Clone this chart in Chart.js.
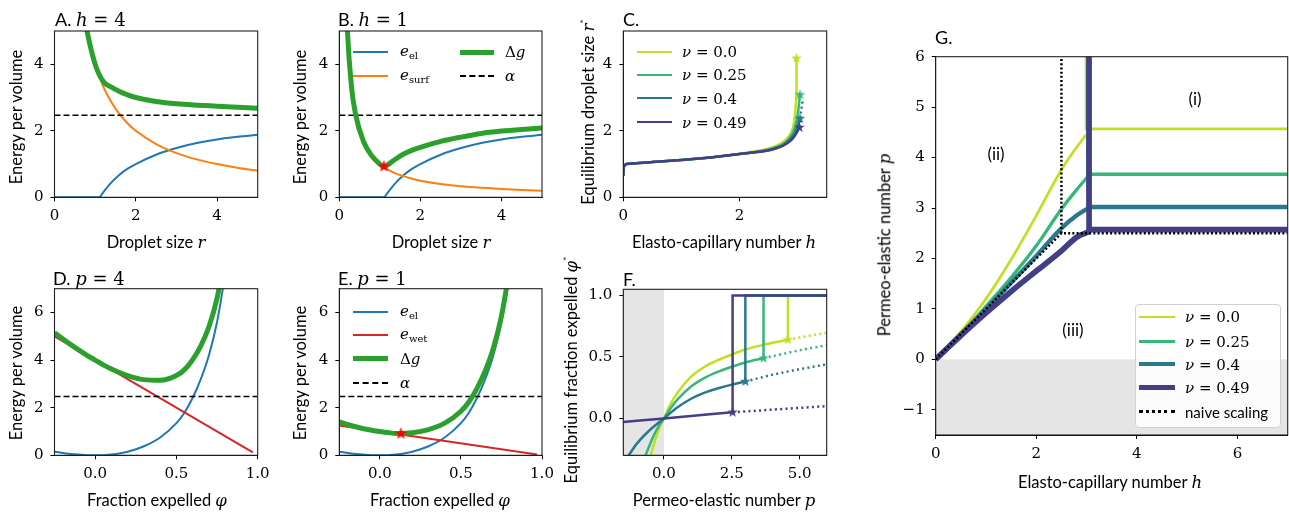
<!DOCTYPE html>
<html>
<head>
<meta charset="utf-8">
<script src="https://cdn.jsdelivr.net/npm/chart.js@4.4.0/dist/chart.umd.min.js"></script>
<style>
  body { margin: 0; width: 1289px; height: 512px; position: relative; background: #fff; overflow: hidden; font-family: Lato, sans-serif; }
  canvas { position: absolute; }
  .t { position: absolute; white-space: nowrap; font-size: 16.5px; color: #000; line-height: 1; }
  .m { font-family: "DejaVu Serif", serif; font-style: italic; }
  .s { font-family: "DejaVu Serif", serif; }
  .ttl { font-size: 18px; transform: translateY(-50%); }
  .yl { transform: translate(-50%, -50%) rotate(-90deg); }
  .xl { transform: translate(-50%, -50%); }
  .lg { transform: translateY(-50%); font-size: 15px; }
  .ln { position: absolute; height: 0; }
  sub { font-size: 10px; font-family: "DejaVu Serif", serif; font-style: normal; vertical-align: -3px; }
  sup { font-size: 10px; vertical-align: 7px; }
  .box { position: absolute; border: 1px solid #d0d0d0; border-radius: 4px; background: rgba(255,255,255,0.85); }
</style>
</head>
<body>
<canvas id="cA"></canvas><canvas id="cB"></canvas><canvas id="cC"></canvas>
<canvas id="cD"></canvas><canvas id="cE"></canvas><canvas id="cF"></canvas>
<canvas id="cG"></canvas>

<!-- titles -->
<div class="t ttl" style="left:55px;top:19px">A. <span class="m">h</span><span class="s"> = 4</span></div>
<div class="t ttl" style="left:338px;top:19px">B. <span class="m">h</span><span class="s"> = 1</span></div>
<div class="t ttl" style="left:623px;top:19px">C.</div>
<div class="t ttl" style="left:53px;top:278px">D. <span class="m">p</span><span class="s"> = 4</span></div>
<div class="t ttl" style="left:338px;top:278px">E. <span class="m">p</span><span class="s"> = 1</span></div>
<div class="t ttl" style="left:623px;top:279px">F.</div>
<div class="t ttl" style="left:935px;top:37px">G.</div>

<!-- axis labels -->
<div class="t xl" style="left:156px;top:243px">Droplet size <span class="m">r</span></div>
<div class="t yl" style="left:16px;top:117px">Energy per volume</div>
<div class="t xl" style="left:441px;top:243px">Droplet size <span class="m">r</span></div>
<div class="t yl" style="left:300px;top:117px">Energy per volume</div>
<div class="t xl" style="left:724px;top:243px">Elasto-capillary number <span class="m">h</span></div>
<div class="t yl" style="left:588px;top:112px">Equilibrium droplet size <span class="m">r</span><sup>*</sup></div>
<div class="t xl" style="left:157px;top:501px">Fraction expelled <span class="m">φ</span></div>
<div class="t yl" style="left:16px;top:373px">Energy per volume</div>
<div class="t xl" style="left:440px;top:501px">Fraction expelled <span class="m">φ</span></div>
<div class="t yl" style="left:300px;top:373px">Energy per volume</div>
<div class="t xl" style="left:724px;top:501px">Permeo-elastic number <span class="m">p</span></div>
<div class="t yl" style="left:571px;top:370px">Equilibrium fraction expelled <span class="m">φ</span><sup>*</sup></div>
<div class="t xl" style="left:1110px;top:483px">Elasto-capillary number <span class="m">h</span></div>
<div class="t yl" style="left:885px;top:245px">Permeo-elastic number <span class="m">p</span></div>

<!-- region labels G -->
<div class="t xl" style="left:1195px;top:98px;font-size:17px">(i)</div>
<div class="t xl" style="left:996px;top:153px;font-size:17px">(ii)</div>
<div class="t xl" style="left:1073px;top:329px;font-size:17px">(iii)</div>

<!-- legend B -->
<div class="ln" style="left:353px;top:51px;width:35px;border-top:2px solid #1f77b4"></div>
<div class="t lg" style="left:400px;top:52px"><span class="m">e</span><sub>el</sub></div>
<div class="ln" style="left:353px;top:75px;width:35px;border-top:2px solid #ff7f0e"></div>
<div class="t lg" style="left:400px;top:76px"><span class="m">e</span><sub>surf</sub></div>
<div class="ln" style="left:460px;top:50px;width:34px;border-top:5px solid #2ca02c"></div>
<div class="t lg" style="left:505px;top:52px"><span class="s">Δ</span><span class="m">g</span></div>
<div class="ln" style="left:460px;top:75px;width:34px;border-top:2px dashed #000"></div>
<div class="t lg" style="left:505px;top:76px"><span class="m">α</span></div>

<!-- legend E -->
<div class="ln" style="left:353px;top:311px;width:35px;border-top:2px solid #1f77b4"></div>
<div class="t lg" style="left:400px;top:312px"><span class="m">e</span><sub>el</sub></div>
<div class="ln" style="left:353px;top:334px;width:35px;border-top:2px solid #d62728"></div>
<div class="t lg" style="left:400px;top:335px"><span class="m">e</span><sub>wet</sub></div>
<div class="ln" style="left:353px;top:356px;width:35px;border-top:5px solid #2ca02c"></div>
<div class="t lg" style="left:400px;top:359px"><span class="s">Δ</span><span class="m">g</span></div>
<div class="ln" style="left:353px;top:382px;width:35px;border-top:2px dashed #000"></div>
<div class="t lg" style="left:400px;top:383px"><span class="m">α</span></div>

<!-- legend C -->
<div class="ln" style="left:637px;top:51px;width:35px;border-top:2.7px solid #c2df23"></div>
<div class="t lg" style="left:682px;top:52px"><span class="m">ν</span><span class="s"> = 0.0</span></div>
<div class="ln" style="left:637px;top:74px;width:35px;border-top:2.7px solid #35b779"></div>
<div class="t lg" style="left:682px;top:75px"><span class="m">ν</span><span class="s"> = 0.25</span></div>
<div class="ln" style="left:637px;top:97px;width:35px;border-top:2.7px solid #2a788e"></div>
<div class="t lg" style="left:682px;top:99px"><span class="m">ν</span><span class="s"> = 0.4</span></div>
<div class="ln" style="left:637px;top:121px;width:35px;border-top:2.7px solid #433e85"></div>
<div class="t lg" style="left:682px;top:123px"><span class="m">ν</span><span class="s"> = 0.49</span></div>

<!-- legend G -->
<div class="box" style="left:1135px;top:304px;width:144px;height:122px"></div>
<div class="ln" style="left:1139px;top:316px;width:36px;border-top:2.7px solid #c2df23"></div>
<div class="t lg" style="left:1185px;top:317px"><span class="m">ν</span><span class="s"> = 0.0</span></div>
<div class="ln" style="left:1139px;top:340px;width:36px;border-top:3.3px solid #35b779"></div>
<div class="t lg" style="left:1185px;top:342px"><span class="m">ν</span><span class="s"> = 0.25</span></div>
<div class="ln" style="left:1139px;top:362px;width:36px;border-top:4.3px solid #2a788e"></div>
<div class="t lg" style="left:1185px;top:365px"><span class="m">ν</span><span class="s"> = 0.4</span></div>
<div class="ln" style="left:1139px;top:385px;width:36px;border-top:5.7px solid #433e85"></div>
<div class="t lg" style="left:1185px;top:388px"><span class="m">ν</span><span class="s"> = 0.49</span></div>
<div class="ln" style="left:1139px;top:410px;width:36px;border-top:3px dotted #000"></div>
<div class="t lg" style="left:1185px;top:412px">naive scaling</div>

<script>
// ---------- colours ----------
const C_EL = '#1f77b4', C_SURF = '#ff7f0e', C_DG = '#2ca02c', C_WET = '#d62728';
const NU_COLORS = ['#c2df23', '#35b779', '#2a788e', '#433e85'];
const ALPHA = 2.47;

// ---------- A / B : energy vs droplet size ----------
const rEl = [0, 1.1, 1.2, 1.4, 1.6, 1.8, 2.0, 2.5, 3.0, 3.5, 4.0, 4.5, 5.0];
const eEl = [0, 0, 0.15, 0.45, 0.68, 0.86, 1.0, 1.28, 1.48, 1.63, 1.74, 1.82, 1.88];

const rA = [0.7, 0.8, 1.0, 1.2, 1.4, 1.6, 1.8, 2.0, 2.5, 3.0, 3.5, 4.0, 4.5, 5.0];
const eSurfA = [5.7, 5.0, 4.0, 3.33, 2.86, 2.5, 2.22, 2.0, 1.6, 1.33, 1.14, 1.0, 0.89, 0.8];
const dgA = [5.7, 5.0, 4.0, 3.48, 3.31, 3.18, 3.08, 3.0, 2.88, 2.81, 2.77, 2.74, 2.71, 2.68];

const rB = [0.15, 0.2, 0.3, 0.4, 0.6, 0.8, 1.0, 1.1, 1.2, 1.4, 1.6, 1.8, 2.0, 2.5, 3.0, 3.5, 4.0, 4.5, 5.0];
const eSurfB = [6.67, 5.0, 3.33, 2.5, 1.67, 1.25, 1.0, 0.91, 0.83, 0.71, 0.63, 0.56, 0.5, 0.4, 0.33, 0.29, 0.25, 0.22, 0.2];
const dgB = [6.67, 5.0, 3.33, 2.5, 1.67, 1.25, 1.0, 0.91, 0.98, 1.16, 1.31, 1.42, 1.5, 1.68, 1.81, 1.92, 1.99, 2.04, 2.08];
const starB = [1.1, 0.93];

// ---------- C : equilibrium droplet size ----------
const hC = [
  [0, 0.01, 0.05, 0.5, 1.0, 1.5, 2.0, 2.3, 2.5, 2.65, 2.75, 2.85, 2.92, 2.96, 2.98, 2.98],
  [0, 0.01, 0.05, 0.5, 1.0, 1.5, 2.0, 2.3, 2.5, 2.65, 2.75, 2.85, 2.92, 2.97, 3.01, 3.04],
  [0, 0.01, 0.05, 0.5, 1.0, 1.5, 2.0, 2.3, 2.5, 2.65, 2.75, 2.85, 2.92, 2.98, 3.04],
  [0, 0.01, 0.05, 0.5, 1.0, 1.5, 2.0, 2.3, 2.5, 2.65, 2.75, 2.85, 2.92, 2.98, 3.03]
];
const rC = [
  [0.65, 0.92, 1.0, 1.06, 1.12, 1.2, 1.31, 1.39, 1.47, 1.56, 1.66, 1.84, 2.1, 2.6, 3.2, 4.18],
  [0.65, 0.92, 1.0, 1.06, 1.12, 1.2, 1.3, 1.37, 1.44, 1.52, 1.6, 1.76, 1.95, 2.2, 2.6, 3.08],
  [0.65, 0.92, 1.0, 1.06, 1.12, 1.2, 1.3, 1.36, 1.42, 1.5, 1.57, 1.7, 1.85, 2.05, 2.37],
  [0.65, 0.92, 1.0, 1.06, 1.12, 1.2, 1.3, 1.36, 1.41, 1.48, 1.55, 1.66, 1.78, 1.93, 2.1]
];

// ---------- D / E : energy vs fraction expelled ----------
const phi = [-0.25, -0.15, -0.05, 0, 0.05, 0.1, 0.2, 0.3, 0.4, 0.5, 0.55, 0.6, 0.65, 0.7, 0.75, 0.8];
const eElPhi = [0.15, 0.05, 0.005, 0, 0.005, 0.03, 0.15, 0.38, 0.75, 1.35, 1.8, 2.42, 3.2, 4.2, 5.6, 7.6];
const phiWet = [-0.25, 0.97];
const eWetD = [5.0, 0.12];
const eWetE = [1.25, 0.03];
const dgD = [5.15, 4.65, 4.2, 4.0, 3.8, 3.63, 3.35, 3.18, 3.15, 3.35, 3.6, 4.02, 4.6, 5.4, 6.6, 8.4];
const dgE = [1.4, 1.2, 1.05, 1.0, 0.955, 0.92, 0.95, 1.08, 1.35, 1.85, 2.25, 2.82, 3.55, 4.5, 5.85, 7.8];
const starE = [0.13, 0.91];

// ---------- F : equilibrium fraction expelled ----------
const pF = [
  [-0.49, -0.3, -0.15, 0, 0.25, 0.5, 0.75, 1.0, 1.5, 2.0, 2.5, 3.0, 3.5, 4.0, 4.57],
  [-0.68, -0.4, -0.2, 0, 0.25, 0.5, 1.0, 1.5, 2.0, 2.5, 3.0, 3.67],
  [-1.3, -1.0, -0.5, 0, 0.5, 1.0, 1.5, 2.0, 2.5, 3.0],
  [-1.5, 0, 2.53]
];
const phiF = [
  [-0.3, -0.16, -0.07, 0, 0.12, 0.21, 0.28, 0.34, 0.42, 0.475, 0.52, 0.56, 0.59, 0.615, 0.64],
  [-0.3, -0.15, -0.065, 0, 0.085, 0.155, 0.26, 0.33, 0.38, 0.42, 0.455, 0.49],
  [-0.3, -0.205, -0.09, 0, 0.09, 0.16, 0.21, 0.245, 0.275, 0.30],
  [-0.03, 0, 0.05]
];
const pDotF = [[4.57, 5.3, 6.0], [3.67, 4.5, 5.25, 6.0], [3.0, 4.0, 5.0, 6.0], [2.53, 6.0]];
const phiDotF = [[0.64, 0.67, 0.695], [0.49, 0.53, 0.565, 0.595], [0.30, 0.355, 0.40, 0.44], [0.05, 0.10]];

// ---------- G : phase diagram ----------
const hG = [
  [0, 0.5, 1.0, 1.5, 2.0, 2.5, 2.8, 2.99],
  [0, 0.5, 1.0, 1.5, 2.0, 2.5, 2.8, 3.03],
  [0, 0.5, 1.0, 1.5, 2.0, 2.47, 2.8, 3.04],
  [0, 0.5, 1.0, 1.54, 2.0, 2.5, 2.8, 3.05]
];
const pG = [
  [0, 0.55, 1.2, 1.98, 2.85, 3.76, 4.2, 4.45],
  [0, 0.5, 1.05, 1.62, 2.25, 2.98, 3.36, 3.63],
  [0, 0.5, 1.0, 1.52, 2.05, 2.57, 2.85, 3.0],
  [0, 0.47, 0.92, 1.38, 1.75, 2.15, 2.42, 2.53]
];
const pLevelG = [4.57, 3.67, 3.02, 2.57];
const lwG = [2.7, 3.3, 4.3, 5.7];
const naiveH = [0, 2.5, 7];
const naiveP = [0, 2.5, 2.5];

// ---------- helpers ----------
function pts(xs, ys) { return xs.map((x, i) => ({ x: x, y: ys[i] })); }

function line(xs, ys, color, width, extra) {
  return Object.assign({
    data: pts(xs, ys), borderColor: color, backgroundColor: color, borderWidth: width,
    pointRadius: 0, fill: false, cubicInterpolationMode: 'monotone', clip: 0
  }, extra || {});
}

function starImg(color, size) {
  const c = document.createElement('canvas');
  c.width = c.height = size;
  const g = c.getContext('2d');
  g.fillStyle = color;
  g.beginPath();
  for (let i = 0; i < 10; i++) {
    const a = -Math.PI / 2 + i * Math.PI / 5;
    const rr = i % 2 ? size * 0.2 : size * 0.5;
    g.lineTo(size / 2 + rr * Math.cos(a), size / 2 + rr * Math.sin(a));
  }
  g.closePath();
  g.fill();
  return c;
}

function star(x, y, color, size) {
  return { data: [{ x: x, y: y }], showLine: false, pointStyle: starImg(color, size), pointRadius: size / 2,
           borderColor: color, backgroundColor: color, clip: false };
}

function fmt(v, dec) {
  const s = Math.abs(v).toFixed(dec);
  return v < 0 ? '\u2212' + s : s;
}

function axis(min, max, ticks, dec, size, horizontal) {
  return {
    type: 'linear', min: min, max: max,
    afterBuildTicks: s => { s.ticks = ticks.map(v => ({ value: v })); },
    afterFit: s => {
      if (horizontal) s.height = size; else s.width = size;
      s.paddingLeft = s.paddingRight = s.paddingTop = s.paddingBottom = 0;
    },
    grid: { drawOnChartArea: false, drawTicks: true, tickLength: 4, tickColor: '#000', tickWidth: 1 },
    border: { display: true, color: '#000', width: 1 },
    ticks: { color: '#000', font: { family: 'DejaVu Serif', size: 15 }, padding: horizontal ? 6 : 7,
             maxRotation: 0, autoSkip: false, callback: v => fmt(v, dec) }
  };
}

// grey shading + black frame
const boxPlugin = {
  id: 'box',
  beforeDatasetsDraw(chart, args, opts) {
    const sh = opts.shade;
    if (!sh) return;
    const { ctx, scales } = chart;
    const x0 = scales.x.getPixelForValue(sh.x0), x1 = scales.x.getPixelForValue(sh.x1);
    const y0 = scales.y.getPixelForValue(sh.y0), y1 = scales.y.getPixelForValue(sh.y1);
    ctx.save();
    ctx.fillStyle = '#e5e5e5';
    ctx.fillRect(Math.min(x0, x1), Math.min(y0, y1), Math.abs(x1 - x0), Math.abs(y1 - y0));
    ctx.restore();
  },
  afterDraw(chart) {
    const { ctx, chartArea: a } = chart;
    ctx.save();
    ctx.strokeStyle = '#222';
    ctx.lineWidth = 1.1;
    ctx.strokeRect(a.left, a.top, a.right - a.left, a.bottom - a.top);
    ctx.restore();
  }
};
Chart.register(boxPlugin);

// cv = canvas box [x, y, w, h], ar = chart area [left, top, right, bottom]
function panel(id, cv, ar, xs, ys, datasets, shade) {
  const el = document.getElementById(id);
  el.width = cv[2]; el.height = cv[3];
  el.style.left = cv[0] + 'px'; el.style.top = cv[1] + 'px';
  return new Chart(el.getContext('2d'), {
    type: 'line',
    data: { datasets: datasets },
    options: {
      responsive: false, animation: false, devicePixelRatio: 1,
      layout: { padding: { left: 0, bottom: 0, top: ar[1] - cv[1], right: cv[0] + cv[2] - ar[2] } },
      scales: {
        x: axis(xs[0], xs[1], xs[2], xs[3], cv[1] + cv[3] - ar[3], true),
        y: axis(ys[0], ys[1], ys[2], ys[3], ar[0] - cv[0], false)
      },
      plugins: { legend: { display: false }, tooltip: { enabled: false }, box: { shade: shade || null } }
    }
  });
}

const alphaLine = (x0, x1) => line([x0, x1], [ALPHA, ALPHA], '#000', 1.5, { borderDash: [6, 3], cubicInterpolationMode: 'default' });

// A
panel('cA', [0, 0, 290, 256], [54.5, 31, 257.7, 197.3],
  [0, 5, [0, 2, 4], 0], [0, 5, [0, 2, 4], 0], [
    line(rA, dgA, C_DG, 5),
    alphaLine(0, 5),
    line(rA, eSurfA, C_SURF, 2),
    line(rEl, eEl, C_EL, 2)
  ]);

// B
panel('cB', [290, 0, 285, 256], [339.3, 31, 542, 197.3],
  [0, 5, [0, 2, 4], 0], [0, 5, [0, 2, 4], 0], [
    star(starB[0], starB[1], 'red', 13),
    line(rB, dgB, C_DG, 5),
    alphaLine(0, 5),
    line(rB, eSurfB, C_SURF, 2),
    line(rEl, eEl, C_EL, 2)
  ]);

// C
const dsC = [];
for (let k = 3; k >= 0; k--) {
  const n = hC[k].length - 1;
  dsC.push(star(hC[k][n], rC[k][n], NU_COLORS[k], 11));
}
dsC.push(line([3.04, 3.09], [2.37, 2.95], NU_COLORS[2], 2.5, { borderDash: [2, 3], cubicInterpolationMode: 'default' }));
dsC.push(line([3.03, 3.06], [2.1, 2.35], NU_COLORS[3], 2.5, { borderDash: [2, 3], cubicInterpolationMode: 'default' }));
for (let k = 3; k >= 0; k--) {
  dsC.push(line(hC[k], rC[k], NU_COLORS[k], 2.5, { cubicInterpolationMode: 'default', tension: 0.2 }));
}
panel('cC', [575, 0, 285, 256], [623.3, 31, 826.7, 197.3],
  [0, 3.5, [0, 2], 0], [0, 5, [0, 2, 4], 0], dsC);

// D
panel('cD', [0, 256, 290, 256], [54.5, 288.7, 257.7, 455.3],
  [-0.25, 1.0, [0, 0.5, 1.0], 1], [0, 7, [0, 2, 4, 6], 0], [
    line(phi, dgD, C_DG, 5),
    alphaLine(-0.25, 1.0),
    line(phiWet, eWetD, C_WET, 2, { cubicInterpolationMode: 'default' }),
    line(phi, eElPhi, C_EL, 2)
  ]);

// E
panel('cE', [290, 256, 285, 256], [339.3, 288.7, 542, 455.3],
  [-0.25, 1.0, [0, 0.5, 1.0], 1], [0, 7, [0, 2, 4, 6], 0], [
    star(starE[0], starE[1], 'red', 13),
    line(phi, dgE, C_DG, 5),
    alphaLine(-0.25, 1.0),
    line(phiWet, eWetE, C_WET, 2, { cubicInterpolationMode: 'default' }),
    line(phi, eElPhi, C_EL, 2)
  ]);

// F
const dsF = [];
for (let k = 3; k >= 0; k--) {
  const n = pF[k].length - 1;
  dsF.push(star(pF[k][n], phiF[k][n], NU_COLORS[k], 11));
}
for (let k = 3; k >= 0; k--) {
  const n = pF[k].length - 1;
  dsF.push(line([pF[k][n], pF[k][n], 6], [phiF[k][n], 1.0, 1.0], NU_COLORS[k], 2.5, { cubicInterpolationMode: 'default' }));
  dsF.push(line(pDotF[k], phiDotF[k], NU_COLORS[k], 2.5, { borderDash: [2, 3.3] }));
  dsF.push(line(pF[k], phiF[k], NU_COLORS[k], 2.5));
}
panel('cF', [575, 256, 285, 256], [623.3, 289.3, 826.7, 455.3],
  [-1.5, 6, [0, 2.5, 5.0], 1], [-0.3, 1.05, [0, 0.5, 1.0], 1], dsF,
  { x0: -1.5, x1: 0, y0: -0.3, y1: 1.05 });

// G
const dsG = [line(naiveH, naiveP, '#000', 2.5, { borderDash: [2, 2.2], cubicInterpolationMode: 'default' }),
             line([2.5, 2.5], [2.5, 6], '#000', 2.5, { borderDash: [2, 2.2], cubicInterpolationMode: 'default' })];
for (let k = 3; k >= 0; k--) {
  const n = hG[k].length - 1;
  dsG.push(line([hG[k][n], hG[k][n], 7], [6.2, pLevelG[k], pLevelG[k]], NU_COLORS[k], lwG[k], { cubicInterpolationMode: 'default' }));
  dsG.push(line(hG[k], pG[k], NU_COLORS[k], lwG[k]));
}
panel('cG', [860, 0, 429, 512], [935.7, 56.7, 1287.7, 435],
  [0, 7, [0, 2, 4, 6], 0], [-1.5, 6, [-1, 0, 1, 2, 3, 4, 5, 6], 0], dsG,
  { x0: 0, x1: 7, y0: -1.5, y1: 0 });
</script>
</body>
</html>
